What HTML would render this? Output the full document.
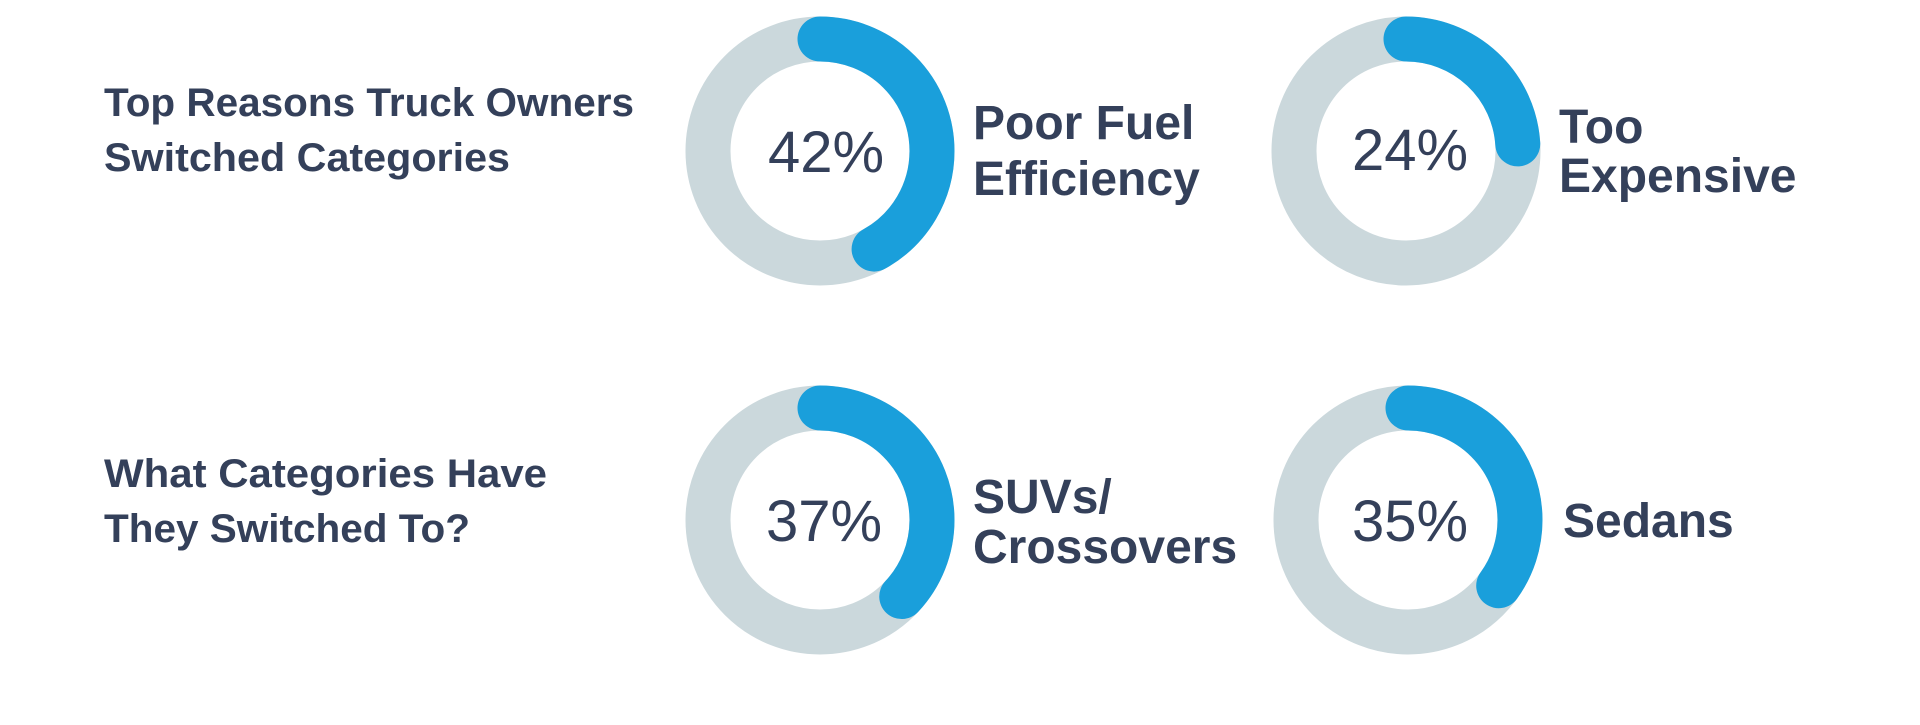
<!DOCTYPE html>
<html><head><meta charset="utf-8"><style>
body{margin:0;background:#fff;width:1920px;height:725px;overflow:hidden}
svg{display:block}
.t{font-family:"Liberation Sans",sans-serif;fill:#34405a;font-weight:bold}
.p{font-family:"Liberation Sans",sans-serif;fill:#34405a;font-size:58px;text-anchor:middle}
</style></head><body>
<svg width="1920" height="725" viewBox="0 0 1920 725">
<g fill="none" stroke-width="45">
<circle cx="820" cy="151" r="112" stroke="#cbd8dc"/>
<circle cx="820" cy="151" r="112" stroke="#1a9fdb" stroke-linecap="round" pathLength="100" stroke-dasharray="42 100" transform="rotate(-90 820 151)"/>
<circle cx="1406" cy="151" r="112" stroke="#cbd8dc"/>
<circle cx="1406" cy="151" r="112" stroke="#1a9fdb" stroke-linecap="round" pathLength="100" stroke-dasharray="24 100" transform="rotate(-90 1406 151)"/>
<circle cx="820" cy="520" r="112" stroke="#cbd8dc"/>
<circle cx="820" cy="520" r="112" stroke="#1a9fdb" stroke-linecap="round" pathLength="100" stroke-dasharray="37 100" transform="rotate(-90 820 520)"/>
<circle cx="1408" cy="520" r="112" stroke="#cbd8dc"/>
<circle cx="1408" cy="520" r="112" stroke="#1a9fdb" stroke-linecap="round" pathLength="100" stroke-dasharray="35 100" transform="rotate(-90 1408 520)"/>
</g>
<text class="p" x="826" y="172">42%</text>
<text class="p" x="1410" y="170">24%</text>
<text class="p" x="824" y="541">37%</text>
<text class="p" x="1410" y="541">35%</text>
<g class="t" font-size="40">
<text x="104" y="116" textLength="530" lengthAdjust="spacingAndGlyphs">Top Reasons Truck Owners</text>
<text x="104" y="171" textLength="406" lengthAdjust="spacingAndGlyphs">Switched Categories</text>
<text x="104" y="487" textLength="443" lengthAdjust="spacingAndGlyphs">What Categories Have</text>
<text x="104" y="542" textLength="366" lengthAdjust="spacingAndGlyphs">They Switched To?</text>
</g>
<g class="t" font-size="48">
<text x="973" y="139">Poor Fuel</text>
<text x="973" y="195">Efficiency</text>
<text x="1559" y="143">Too</text>
<text x="1559" y="192">Expensive</text>
<text x="973" y="513">SUVs/</text>
<text x="973" y="563">Crossovers</text>
<text x="1563" y="537">Sedans</text>
</g>
</svg>
</body></html>
